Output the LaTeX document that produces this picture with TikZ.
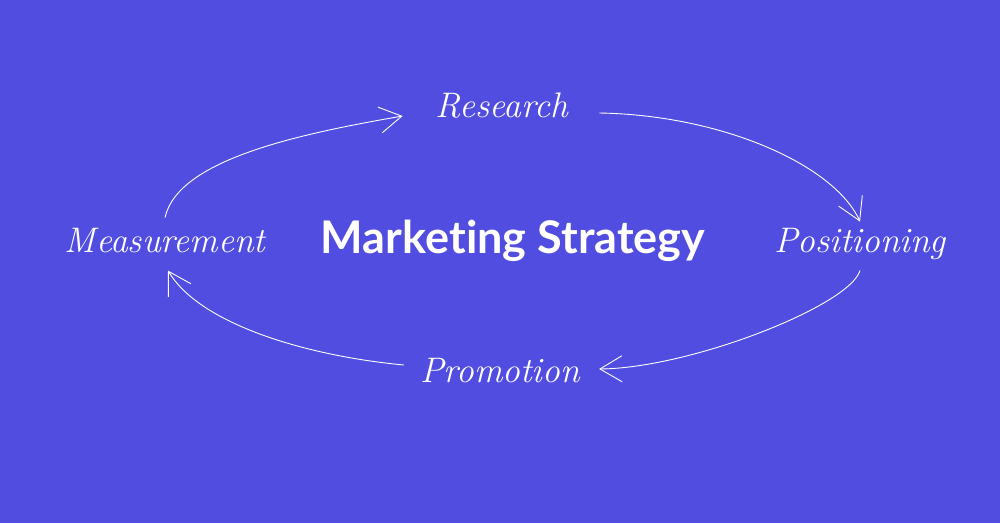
\documentclass[tikz,border=0pt]{standalone}
\usepackage{fontspec}
\usepackage{tikz}
\usetikzlibrary{arrows.meta}
\newfontfamily\headfont{Lato}[Ligatures=NoCommon]
\definecolor{bgblue}{RGB}{81,77,224}

\begin{document}
\begin{tikzpicture}[x=1pt,y=-1pt]
\tikzstyle{lbl} = [text=white, inner sep=0pt, anchor=base, font=\fontsize{35.5}{38}\selectfont\itshape]
\tikzstyle{title} = [text=white, inner sep=0pt, anchor=base, font=\headfont\bfseries\fontsize{45}{48}\selectfont]
\tikzstyle{line} = [white, line width=0.9pt, -{Straight Barb[length=22pt,width=26pt]}]
\fill[bgblue] (0,0) rectangle (1000,523);
\node(ms)[title] at (513,253) {Marketing Strategy};
\node(res)[lbl] at (502,117) {Research};
\node(pos)[lbl] at (860,252) {Positioning};
\node(pro)[lbl] at (500,382) {Promotion};
\node(mea)[lbl] at (165,252) {Measurement};
\draw[line] ([yshift=10pt]mea.north) .. controls +(13,-58) and +(-104,18) .. ([xshift=-33pt,yshift=1pt]res.base west);
\draw[line] ([xshift=31pt,yshift=4pt]res.base east) .. controls +(122,2) and +(-26,-57) .. ([yshift=6pt]pos.north);
\draw[line] ([yshift=-11pt]pos.south) .. controls +(-10,35) and +(92,-1) .. ([xshift=19pt,yshift=13pt]pro.base east);
\draw[line] ([xshift=-16pt,yshift=17pt]pro.base west) .. controls +(-105,-10) and +(30,51) .. ([xshift=3pt,yshift=-18pt]mea.south);
\end{tikzpicture}
\end{document}
